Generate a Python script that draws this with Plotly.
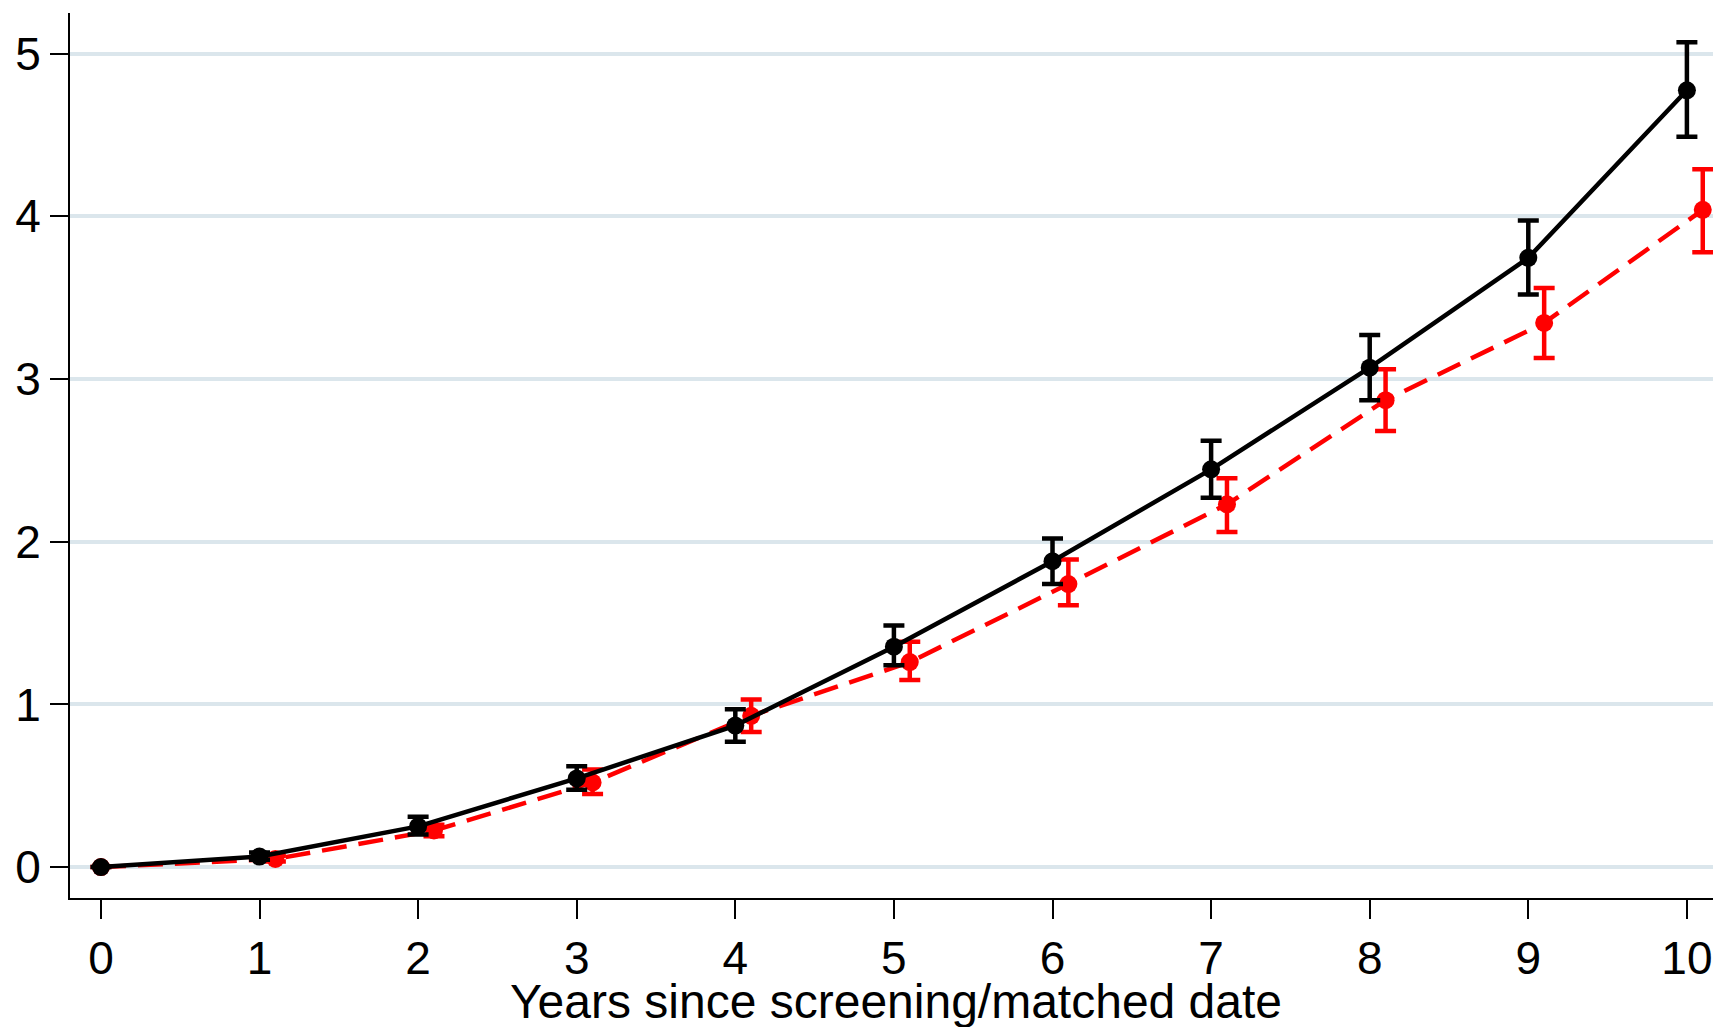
import plotly.graph_objects as go

# Data
years = [0, 1, 2, 3, 4, 5, 6, 7, 8, 9, 10]
red_x = [0, 1.1, 2.1, 3.1, 4.1, 5.1, 6.1, 7.1, 8.1, 9.1, 10.1]

black_y = [0.0, 0.065, 0.25, 0.545, 0.87, 1.355, 1.88, 2.445, 3.07, 3.745, 4.775]
black_hi = [0.0, 0.09, 0.31, 0.62, 0.97, 1.485, 2.02, 2.62, 3.27, 3.975, 5.07]
black_lo = [0.0, 0.045, 0.20, 0.475, 0.77, 1.24, 1.74, 2.27, 2.87, 3.52, 4.49]

red_y = [0.0, 0.05, 0.225, 0.52, 0.93, 1.26, 1.74, 2.23, 2.87, 3.345, 4.04]
red_hi = [0.0, 0.07, 0.26, 0.60, 1.03, 1.385, 1.89, 2.39, 3.06, 3.56, 4.29]
red_lo = [0.0, 0.035, 0.19, 0.45, 0.83, 1.15, 1.61, 2.06, 2.68, 3.13, 3.78]

y_ticks = [0, 1, 2, 3, 4, 5]
x_ticks = years
x_title = "Years since screening/matched date"

def plus(v, hi):
    return [h - a for a, h in zip(v, hi)]

def minus(v, lo):
    return [a - l for a, l in zip(v, lo)]

fig = go.Figure()
fig.add_trace(go.Scatter(
    x=red_x, y=red_y, mode="lines+markers",
    line=dict(color="#ff0000", width=4.5, dash="25px,12px"),
    marker=dict(color="#ff0000", size=18),
    error_y=dict(type="data", array=plus(red_y, red_hi), arrayminus=minus(red_y, red_lo),
                 color="#ff0000", thickness=4.5, width=10.5),
    showlegend=False, cliponaxis=False,
))
fig.add_trace(go.Scatter(
    x=years, y=black_y, mode="lines+markers",
    line=dict(color="#000000", width=4.5),
    marker=dict(color="#000000", size=18),
    error_y=dict(type="data", array=plus(black_y, black_hi), arrayminus=minus(black_y, black_lo),
                 color="#000000", thickness=4.5, width=10.5),
    showlegend=False, cliponaxis=False,
))

font = dict(family="Liberation Sans, Arial, sans-serif", size=46, color="black")
title_font = dict(family="Liberation Sans, Arial, sans-serif", size=48, color="black")
fig.update_layout(
    width=1721, height=1027,
    margin=dict(l=62, r=8, t=5, b=137),
    paper_bgcolor="white", plot_bgcolor="white",
    font=font,
    xaxis=dict(
        range=[-0.195, 10.215], tickvals=x_ticks, ticktext=[str(v) for v in x_ticks],
        showgrid=False, zeroline=False, automargin=False,
        showline=True, linecolor="black", linewidth=2,
        ticks="outside", ticklen=19, tickwidth=1.5, tickcolor="black",
        ticklabelstandoff=0,
    ),
    yaxis=dict(
        range=[-0.19, 5.25], tickvals=y_ticks, ticktext=[str(v) for v in y_ticks],
        showgrid=True, gridcolor="#dbe6ec", gridwidth=4, zeroline=False, automargin=False,
        showline=True, linecolor="black", linewidth=2,
        ticks="outside", ticklen=18, tickwidth=2, tickcolor="black",
        ticklabelstandoff=0,
    ),
    annotations=[dict(
        text=x_title, xref="paper", yref="paper", x=0.5, y=-0.1175,
        xanchor="center", yanchor="middle", showarrow=False, font=title_font,
    )],
)
fig.write_html("out.html")
